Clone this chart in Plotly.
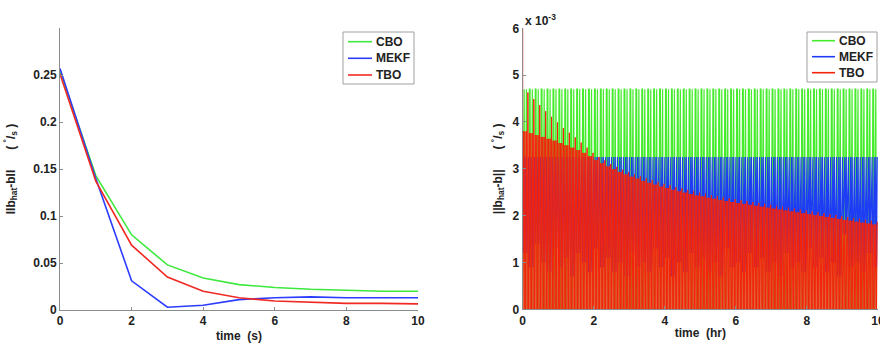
import plotly.graph_objects as go

# ---------------- Left panel data (first 10 s) ----------------
t_sec = [0, 1, 2, 3, 4, 5, 6, 7, 8, 9, 10]
cbo_short = [0.254, 0.143, 0.080, 0.048, 0.034, 0.027, 0.024, 0.022, 0.021, 0.020, 0.020]
mekf_short = [0.257, 0.140, 0.031, 0.003, 0.005, 0.011, 0.013, 0.014, 0.013, 0.013, 0.013]
tbo_short = [0.251, 0.137, 0.069, 0.035, 0.020, 0.013, 0.0095, 0.008, 0.007, 0.007, 0.0065]

# ---------------- Right panel data (10 hr, units of 1e-3 deg/s) ----------------
cycle_hr = 1.0 / 6.0          # one visible oscillation every 10 minutes
tbo_start = 6.0               # initial TBO value at t = 0
cbo_peak = [4.70] * 60
cbo_low = 0.0
mekf_peak = 3.25
mekf_trough = [1.2, 0.9, 1.4, 1.0, 0.8, 1.3, 0.9, 1.1, 0.7, 1.2,
               1.0, 0.8, 1.3, 0.9, 1.1, 0.8, 1.0, 0.7, 1.2, 0.9,
               1.0, 0.8, 1.3, 0.9, 1.1, 0.7, 1.0, 0.8, 1.2, 0.9,
               1.1, 0.8, 1.0, 0.7, 1.3, 0.9, 1.0, 0.8, 1.2, 0.9,
               1.1, 0.8, 1.0, 0.7, 1.2, 0.9, 1.0, 0.8, 1.3, 0.9,
               1.1, 0.8, 1.0, 0.7, 1.6, 0.9, 1.0, 0.8, 1.2, 0.9]
tbo_peak = [4.63, 4.49, 4.36, 4.23, 4.11, 3.99, 3.87, 3.77, 3.67, 3.56,
            3.45, 3.34, 3.25, 3.18, 3.10, 3.04, 2.98, 2.93, 2.88, 2.84,
            2.80, 2.76, 2.72, 2.68, 2.65, 2.61, 2.58, 2.55, 2.52, 2.49,
            2.47, 2.44, 2.42, 2.39, 2.37, 2.35, 2.33, 2.31, 2.29, 2.27,
            2.25, 2.23, 2.21, 2.19, 2.17, 2.15, 2.13, 2.11, 2.09, 2.07,
            2.05, 2.03, 2.01, 1.99, 1.97, 1.95, 1.93, 1.91, 1.89, 1.87]
tbo_shoulder = [3.80, 3.76, 3.72, 3.68, 3.64, 3.60, 3.55, 3.50, 3.45, 3.40,
                3.34, 3.27, 3.19, 3.12, 3.05, 2.99, 2.93, 2.88, 2.83, 2.79,
                2.74, 2.70, 2.66, 2.62, 2.59, 2.55, 2.52, 2.49, 2.46, 2.43,
                2.41, 2.38, 2.36, 2.33, 2.31, 2.29, 2.27, 2.25, 2.23, 2.21,
                2.19, 2.17, 2.15, 2.13, 2.11, 2.09, 2.07, 2.05, 2.03, 2.01,
                1.99, 1.97, 1.95, 1.93, 1.91, 1.89, 1.87, 1.85, 1.83, 1.81]
tbo_low = 0.0

series_names = ["CBO", "MEKF", "TBO"]
x_ticks_short = [0, 2, 4, 6, 8, 10]
y_ticks_short = [0, 0.05, 0.1, 0.15, 0.2, 0.25]
x_ticks_long = [0, 2, 4, 6, 8, 10]
y_ticks_long = [0, 1, 2, 3, 4, 5, 6]

GREEN = "#45ec2c"
BLUE = "#1f3cf5"
RED = "#f5230c"
GREEN_L = "#3ee83e"
BLUE_L = "#2b3cff"
RED_L = "#f02a22"
W, H = 880, 345


def pick(v, k):
    return v[k] if isinstance(v, list) else v


def wave(levels_in_order, n):
    xs, ys = [], []
    m = len(levels_in_order)
    for k in range(n):
        for j, lev in enumerate(levels_in_order):
            xs.append((k + j / m) * cycle_hr)
            ys.append(pick(lev, k))
    return xs, ys


n_cyc = len(tbo_peak)
gx, gy = wave([cbo_low, cbo_peak, cbo_peak, cbo_low, cbo_peak, cbo_peak, cbo_low, cbo_low], n_cyc)
bx, by = wave([mekf_peak, mekf_trough, mekf_peak, mekf_peak, mekf_trough, mekf_peak, mekf_trough, mekf_peak], n_cyc)
rx, ry = wave([tbo_low, tbo_shoulder, tbo_low, tbo_shoulder, tbo_low, tbo_shoulder, tbo_low, tbo_peak], n_cyc)
rx = [0.0] + rx
ry = [tbo_start] + ry

BOLD = dict(family="Liberation Sans, Arial, sans-serif", size=12, weight="bold", color="#222222")

fig = go.Figure()
for name, vals, col in zip(series_names, [cbo_short, mekf_short, tbo_short], [GREEN_L, BLUE_L, RED_L]):
    fig.add_trace(go.Scatter(x=t_sec, y=vals, mode="lines", name=name,
                             line=dict(color=col, width=1.6), xaxis="x", yaxis="y", showlegend=False))
for name, xs, ys, col, lw in zip(series_names, [gx, bx, rx], [gy, by, ry], [GREEN, BLUE, RED], [1.2, 1.1, 1.0]):
    fig.add_trace(go.Scatter(x=xs, y=ys, mode="lines", name=name,
                             line=dict(color=col, width=lw), xaxis="x2", yaxis="y2", showlegend=False))

axis_common = dict(showline=True, linecolor="#8c8c8c", linewidth=1, mirror=False,
                   ticks="inside", ticklen=3, tickcolor="#8c8c8c", showgrid=False,
                   zeroline=False, tickfont=BOLD, automargin=False, ticklabeloverflow="allow")

# ---- legend boxes (drawn in paper space) ----
shapes, annotations = [], []


def legend_box(x0, y0, x1, y1, line_x0, line_x1, text_x, rows, colors):
    shapes.append(dict(type="rect", xref="paper", yref="paper",
                       x0=x0 / W, x1=x1 / W, y0=1 - y0 / H, y1=1 - y1 / H,
                       line=dict(color="#a0a0a0", width=1), fillcolor="white", layer="above"))
    for name, yy, col in zip(series_names, rows, colors):
        shapes.append(dict(type="line", xref="paper", yref="paper",
                           x0=line_x0 / W, x1=line_x1 / W, y0=1 - yy / H, y1=1 - yy / H,
                           line=dict(color=col, width=1.6), layer="above"))
        annotations.append(dict(text=name, xref="paper", yref="paper", x=text_x / W, y=1 - yy / H,
                                xanchor="left", yanchor="middle", showarrow=False, font=BOLD))


legend_box(343, 32, 414, 84, 348, 372, 374, [41.7, 58.3, 75.0], [GREEN_L, BLUE_L, RED_L])
legend_box(807, 32, 877, 82, 812, 835, 837, [40.7, 56.7, 72.7], [GREEN, BLUE, RED])

annotations.append(dict(text="x 10<sup>-3</sup>", xref="paper", yref="paper",
                        x=523 / W, y=1 - 20 / H, xanchor="left", yanchor="middle",
                        showarrow=False, font=BOLD))

fig.update_layout(
    width=W, height=H,
    margin=dict(l=0, r=0, t=0, b=0, autoexpand=False),
    paper_bgcolor="white", plot_bgcolor="white",
    showlegend=False,
    xaxis=dict(domain=[60 / W, 418 / W], range=[0, 10], tickvals=x_ticks_short,
               title=dict(text="time  (s)", font=BOLD, standoff=4), anchor="y", **axis_common),
    yaxis=dict(domain=[35 / H, 317 / H], range=[0, 0.3], tickvals=y_ticks_short,
               title=dict(text="llb<sub>hat</sub>-bll      ( <sup>°</sup>/<sub>s</sub> )", font=BOLD, standoff=15),
               anchor="x", **axis_common),
    xaxis2=dict(domain=[522.7 / W, 878 / W], range=[0, 10], tickvals=x_ticks_long,
                title=dict(text="time  (hr)", font=BOLD, standoff=1), anchor="y2", **axis_common),
    yaxis2=dict(domain=[35.7 / H, 316.7 / H], range=[0, 6], tickvals=y_ticks_long,
                title=dict(text="||b<sub>hat</sub>-b||      ( <sup>°</sup>/<sub>s</sub> )", font=BOLD, standoff=7),
                anchor="x2", **axis_common),
    shapes=shapes,
    annotations=annotations,
)

fig.write_html("out.html", config={"displayModeBar": False},
               post_script="document.body.style.margin='0';document.body.style.overflow='hidden';")
